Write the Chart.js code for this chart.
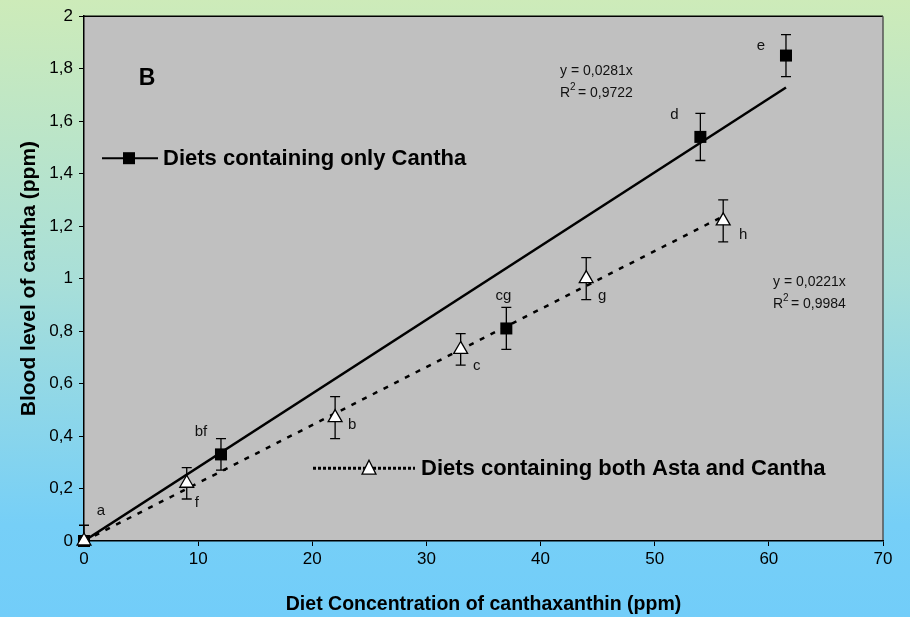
<!DOCTYPE html>
<html>
<head>
<meta charset="utf-8">
<script src="https://cdn.jsdelivr.net/npm/chart.js@4.4.1/dist/chart.umd.min.js"></script>
<style>
  html, body { margin: 0; padding: 0; background: #74CEF8; }
  #wrap { width: 910px; height: 617px; position: relative; }
  canvas { display: block; }
</style>
</head>
<body>
<div id="wrap"><canvas id="c" width="910" height="617"></canvas></div>
<script>
// ---- Data ----
const canthaX = [0, 12, 37, 54, 61.5];
const canthaY = [0, 0.33, 0.81, 1.54, 1.85];
const canthaErr = [0.06, 0.06, 0.08, 0.09, 0.08];
const canthaLetters = ['a', 'bf', 'cg', 'd', 'e'];

const bothX = [0, 9, 22, 33, 44, 56];
const bothY = [0, 0.22, 0.47, 0.73, 1.0, 1.22];
const bothErr = [0, 0.06, 0.08, 0.06, 0.08, 0.08];
const bothLetters = ['', 'f', 'b', 'c', 'g', 'h'];

const canthaSlope = 0.0281, canthaR2 = '0,9722';
const bothSlope = 0.0221, bothR2 = '0,9984';

const seriesNames = ['Diets containing only Cantha', 'Diets containing both Asta and Cantha'];
const xTitle = 'Diet Concentration of canthaxanthin (ppm)';
const yTitle = 'Blood level of cantha (ppm)';
const panelLetter = 'B';

const FONT = '"Liberation Sans", Arial, sans-serif';
const fmtComma = v => Number.isInteger(Math.round(v * 1000) / 1000) ? String(Math.round(v)) : v.toFixed(1).replace('.', ',');
const fmtSlope = s => s.toFixed(4).replace('.', ',');

const toPts = (xs, ys) => xs.map((x, i) => ({ x: x, y: ys[i] }));
const fitLine = (slope, xs) => [{ x: 0, y: 0 }, { x: xs[xs.length - 1], y: slope * xs[xs.length - 1] }];

// letter offsets (pixel layout for annotation letters)
const canthaLetterOff = [[17, -30], [-20, -23], [-3, -33], [-26, -22], [-25, -10]];
const bothLetterOff = [[0, 0], [10, 20], [17, 7], [16, 16], [16, 17], [20, 14]];

const bgPlugin = {
  id: 'bg',
  beforeDraw(chart) {
    const { ctx, width, height, chartArea: a } = chart;
    ctx.save();
    const g = ctx.createLinearGradient(0, 0, 0, height);
    g.addColorStop(0, '#CDEBB9');
    g.addColorStop(0.45, '#A9DFD8');
    g.addColorStop(0.85, '#76CFF7');
    g.addColorStop(1, '#72CDF9');
    ctx.fillStyle = g;
    ctx.fillRect(0, 0, width, height);
    ctx.fillStyle = '#C0C0C0';
    ctx.fillRect(a.left, a.top, a.right - a.left, a.bottom - a.top);
    ctx.strokeStyle = '#000';
    ctx.lineWidth = 1.5;
    ctx.beginPath();
    ctx.moveTo(a.left, a.top); ctx.lineTo(a.right, a.top);
    ctx.stroke();
    ctx.strokeStyle = '#555';
    ctx.lineWidth = 1.5;
    ctx.beginPath();
    ctx.moveTo(a.right, a.top); ctx.lineTo(a.right, a.bottom);
    ctx.stroke();
    ctx.restore();
  }
};

const errPlugin = {
  id: 'errbars',
  beforeDatasetsDraw(chart) {
    const { ctx, scales: { x, y }, chartArea: a } = chart;
    ctx.save();
    ctx.beginPath();
    ctx.rect(a.left - 6, a.top, a.right - a.left + 12, a.bottom - a.top);
    ctx.clip();
    ctx.strokeStyle = '#000';
    ctx.lineWidth = 1.3;
    const draw = (xs, ys, es) => {
      xs.forEach((xv, i) => {
        if (!es[i]) return;
        const px = x.getPixelForValue(xv);
        const p1 = y.getPixelForValue(ys[i] - es[i]);
        const p2 = y.getPixelForValue(ys[i] + es[i]);
        ctx.beginPath();
        ctx.moveTo(px, p1); ctx.lineTo(px, p2);
        ctx.moveTo(px - 5, p1); ctx.lineTo(px + 5, p1);
        ctx.moveTo(px - 5, p2); ctx.lineTo(px + 5, p2);
        ctx.stroke();
      });
    };
    draw(canthaX, canthaY, canthaErr);
    draw(bothX, bothY, bothErr);
    ctx.restore();
  }
};

const annotPlugin = {
  id: 'annot',
  afterDatasetsDraw(chart) {
    const { ctx, scales: { x, y }, chartArea: a } = chart;
    ctx.save();
    // letters
    ctx.fillStyle = '#111';
    ctx.font = '15px ' + FONT;
    ctx.textAlign = 'center';
    ctx.textBaseline = 'middle';
    canthaX.forEach((xv, i) => {
      const px = x.getPixelForValue(xv), py = y.getPixelForValue(canthaY[i]);
      ctx.fillText(canthaLetters[i], px + canthaLetterOff[i][0], py + canthaLetterOff[i][1]);
    });
    bothX.forEach((xv, i) => {
      if (!bothLetters[i]) return;
      const px = x.getPixelForValue(xv), py = y.getPixelForValue(bothY[i]);
      ctx.fillText(bothLetters[i], px + bothLetterOff[i][0], py + bothLetterOff[i][1]);
    });

    // panel letter
    ctx.font = 'bold 23px ' + FONT;
    ctx.fillStyle = '#000';
    ctx.fillText(panelLetter, a.left + 63, a.top + 62);

    // equations
    const eq = (lx, ly, slope, r2) => {
      ctx.textAlign = 'left';
      ctx.textBaseline = 'middle';
      ctx.font = '14px ' + FONT;
      ctx.fillStyle = '#111';
      ctx.fillText('y = ' + fmtSlope(slope) + 'x', lx, ly);
      ctx.fillText('R', lx, ly + 22);
      const rw = ctx.measureText('R').width;
      ctx.font = '10px ' + FONT;
      ctx.fillText('2', lx + rw, ly + 16);
      ctx.font = '14px ' + FONT;
      ctx.fillText(' = ' + r2, lx + rw + 4, ly + 22);
    };
    eq(a.left + 476, a.top + 55, canthaSlope, canthaR2);
    eq(a.left + 689, a.top + 266, bothSlope, bothR2);

    // legend 1 (solid + square)
    const ly1 = a.top + 142;
    ctx.strokeStyle = '#000';
    ctx.lineWidth = 2;
    ctx.setLineDash([]);
    ctx.beginPath();
    ctx.moveTo(a.left + 18, ly1); ctx.lineTo(a.left + 74, ly1);
    ctx.stroke();
    ctx.fillStyle = '#000';
    ctx.fillRect(a.left + 39, ly1 - 6, 12, 12);
    ctx.font = 'bold 22px ' + FONT;
    ctx.textBaseline = 'middle';
    ctx.textAlign = 'left';
    ctx.fillText(seriesNames[0], a.left + 79, ly1 + 1);

    // legend 2 (dotted + triangle)
    const ly2 = a.top + 452;
    ctx.lineWidth = 3;
    ctx.setLineDash([3, 2]);
    ctx.beginPath();
    ctx.moveTo(a.left + 229, ly2); ctx.lineTo(a.left + 331, ly2);
    ctx.stroke();
    ctx.setLineDash([]);
    const tx = a.left + 285, tr = 8;
    ctx.beginPath();
    ctx.moveTo(tx, ly2 - tr);
    ctx.lineTo(tx + tr * 0.87, ly2 + tr * 0.5 + 2);
    ctx.lineTo(tx - tr * 0.87, ly2 + tr * 0.5 + 2);
    ctx.closePath();
    ctx.fillStyle = '#fff';
    ctx.fill();
    ctx.lineWidth = 1.3;
    ctx.stroke();
    ctx.fillStyle = '#000';
    ctx.fillText(seriesNames[1], a.left + 337, ly2 + 1);
    ctx.restore();
  }
};

new Chart(document.getElementById('c'), {
  type: 'scatter',
  data: {
    datasets: [
      {
        label: seriesNames[1],
        data: toPts(bothX, bothY),
        pointStyle: 'triangle',
        pointRadius: 8,
        pointHoverRadius: 8,
        backgroundColor: '#fff',
        borderColor: '#000',
        borderWidth: 1.3,
        showLine: false,
        clip: false,
        order: 0
      },
      {
        label: seriesNames[0],
        data: toPts(canthaX, canthaY),
        pointStyle: 'rect',
        pointRadius: 8.5,
        pointHoverRadius: 8.5,
        backgroundColor: '#000',
        borderColor: '#000',
        borderWidth: 0,
        showLine: false,
        clip: false,
        order: 1
      },
      {
        label: 'fit cantha',
        data: fitLine(canthaSlope, canthaX),
        showLine: true,
        borderColor: '#000',
        borderWidth: 2.5,
        pointRadius: 0,
        fill: false,
        order: 2
      },
      {
        label: 'fit both',
        data: fitLine(bothSlope, bothX),
        showLine: true,
        borderColor: '#000',
        borderWidth: 2.5,
        borderDash: [5, 7],
        pointRadius: 0,
        fill: false,
        order: 3
      }
    ]
  },
  options: {
    responsive: false,
    animation: false,
    layout: { padding: { top: 16, right: 27, left: 0, bottom: 0 } },
    plugins: {
      legend: { display: false },
      tooltip: { enabled: false }
    },
    scales: {
      x: {
        type: 'linear',
        min: 0, max: 70,
        afterFit(s) { s.height = 76; },
        ticks: { stepSize: 10, color: '#000', font: { family: FONT, size: 17 }, padding: 3 },
        grid: { display: true, drawOnChartArea: false, drawTicks: true, tickLength: 5, color: '#000', lineWidth: 1 },
        border: { display: true, color: '#000', width: 1.5 },
        title: { display: true, text: xTitle, color: '#000', font: { family: FONT, size: 19.5, weight: 'bold' }, padding: { top: 0, bottom: 1 } }
      },
      y: {
        type: 'linear',
        min: 0, max: 2,
        afterFit(s) { s.width = 84; },
        ticks: { stepSize: 0.2, color: '#000', font: { family: FONT, size: 17 }, padding: 6, callback: v => fmtComma(v) },
        grid: { display: true, drawOnChartArea: false, drawTicks: true, tickLength: 5, color: '#000', lineWidth: 1 },
        border: { display: true, color: '#000', width: 1.5 },
        title: { display: true, text: yTitle, color: '#000', font: { family: FONT, size: 21, weight: 'bold' }, padding: { top: 17, bottom: 0 } }
      }
    }
  },
  plugins: [bgPlugin, errPlugin, annotPlugin]
});
</script>
</body>
</html>
